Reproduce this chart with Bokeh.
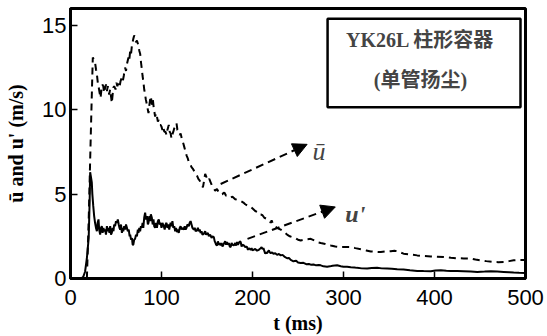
from bokeh.plotting import figure
from bokeh.models import Range1d, Label, Arrow, NormalHead, BoxAnnotation
from bokeh.embed import file_html
from bokeh.resources import INLINE

# Time axis and fluctuating velocity u' (solid line)
t_rms = [0, 12, 14, 16, 18, 19, 20, 21, 21.6, 22.5, 23.4, 24, 25, 26, 27, 28, 29, 29.8, 30.8, 31.5,
         32.6, 33.5, 34.4, 35.3, 36.2, 37, 38, 39, 40, 41, 41.8, 42.8, 43.6, 44.5, 45.4, 46.3, 47.2, 48, 49, 50,
         51, 52, 53, 53.8, 54.6, 55.5, 56.5, 57.3, 58, 59, 60, 61, 62, 63, 64, 65, 65.6, 66.5, 67.5, 68.3,
         69, 70, 71, 72, 73, 74, 74.7, 75.6, 76.5, 77.4, 78.4, 79.2, 80, 81, 82, 83, 84, 85, 85.7, 86.6,
         87.5, 88.3, 89.4, 90.3, 91.2, 92, 93, 94, 95, 96, 97, 98, 99, 100, 101, 102.5, 103.5, 104.5, 105.5, 106.5,
         107.5, 108.5, 110, 111, 112, 113, 114, 115, 116, 117, 118, 119, 120, 121, 122, 123, 124.5, 125.5, 126.5, 127.5,
         128.5, 130, 131, 132, 133, 134, 135.5, 136.5, 137.5, 139, 140, 141, 142, 143, 144, 145, 146.5, 148, 149, 150,
         151, 152, 153, 154, 155, 156, 157.5, 158.5, 159, 160, 161, 162, 163, 164, 165, 166, 167, 168.5, 170, 171,
         172, 173, 174, 175, 176, 177, 178, 179.5, 181, 182, 183, 184, 185, 186, 187, 188, 189, 190.5, 192, 193,
         194, 195, 196, 197, 198, 199, 200, 201, 203, 205, 207, 209, 210, 211, 212, 214, 215, 216, 217, 218,
         219, 220, 221.5, 223, 225, 227, 229, 231, 233, 235, 238, 240, 242, 245, 248, 250, 253, 256, 259, 262,
         264, 267, 270, 273, 275, 278, 282, 285, 288, 293, 297, 300, 304, 308, 312, 315, 320, 326, 331, 337,
         342, 348, 353, 359, 366, 373, 381, 388, 396, 401, 407, 413, 418, 425, 432, 440, 447, 455, 462, 469,
         476, 482, 487, 493, 500]
u_rms = [0, 0, 0.1, 0.4, 1.2, 1.8, 2.4, 4.5, 6.3, 6.0, 5.7, 5.0, 4.3, 3.7, 3.3, 3.0, 2.8, 3.3, 3.5, 2.9,
         2.6, 3.0, 3.1, 2.7, 3.0, 2.8, 2.9, 2.6, 3.1, 2.8, 3.0, 2.7, 3.1, 2.6, 2.7, 3.0, 2.8, 3.2, 3.1, 3.4,
         3.3, 3.5, 3.2, 3.0, 2.9, 3.2, 2.7, 3.0, 2.8, 3.1, 2.9, 3.2, 3.0, 2.8, 2.9, 2.5, 2.6, 2.3, 2.4, 2.0,
         2.0, 2.3, 2.35, 2.6, 2.5, 2.9, 2.7, 3.0, 2.8, 3.1, 3.0, 3.3, 3.0, 3.6, 3.9, 3.5, 3.7, 3.2, 3.3, 3.7,
         3.4, 3.8, 3.6, 3.2, 3.5, 3.1, 3.0, 3.3, 3.0, 3.4, 3.5, 3.2, 3.3, 3.0, 3.3, 3.1, 2.9, 3.2, 3.3, 3.0,
         3.2, 2.9, 3.3, 3.1, 3.4, 3.0, 3.1, 2.8, 3.0, 2.75, 2.9, 2.7, 3.0, 3.1, 2.9, 3.0, 2.9, 3.1, 2.9, 3.0,
         3.2, 3.1, 3.3, 3.4, 3.2, 3.0, 2.9, 3.0, 2.8, 2.85, 3.0, 2.8, 2.9, 2.7, 2.8, 2.6, 2.65, 2.8, 2.6, 2.65,
         2.7, 2.5, 2.6, 2.55, 2.4, 2.5, 2.45, 2.2, 2.15, 2.0, 1.96, 2.2, 2.0, 2.1, 1.96, 2.1, 1.9, 2.06, 2.2, 2.0,
         2.16, 2.0, 2.1, 1.9, 1.86, 2.1, 2.0, 1.96, 2.1, 1.95, 2.16, 2.0, 2.1, 2.2, 2.16, 1.9, 2.0, 1.96, 1.85, 1.9,
         1.86, 1.7, 1.8, 1.75, 1.7, 1.8, 1.67, 1.7, 1.75, 1.65, 1.7, 1.8, 1.86, 1.75, 1.8, 1.47, 1.55, 1.5, 1.6, 1.67,
         1.55, 1.5, 1.55, 1.47, 1.5, 1.4, 1.45, 1.37, 1.4, 1.3, 1.2, 1.22, 1.1, 1.02, 1.05, 0.95, 0.92, 0.93, 0.85, 0.86,
         0.82, 0.83, 0.78, 0.8, 0.78, 0.72, 0.69, 0.72, 0.76, 0.78, 0.73, 0.7, 0.69, 0.66, 0.65, 0.63, 0.6, 0.59, 0.62, 0.63,
         0.6, 0.59, 0.58, 0.55, 0.53, 0.49, 0.45, 0.44, 0.43, 0.47, 0.49, 0.46, 0.45, 0.44, 0.43, 0.41, 0.39, 0.41, 0.43, 0.41,
         0.39, 0.37, 0.35, 0.34, 0.33]

# Mean velocity u-bar (dashed line)
t_mean = [18, 20, 21.6, 23, 24.5, 25.5, 27, 28, 29, 30, 30.8, 32, 33, 34, 35, 36, 37, 38, 39, 40,
          41, 42.5, 43.5, 44.5, 45.4, 46.3, 47, 48, 49.5, 50.5, 51.5, 52.7, 54, 55, 56.4, 57.5, 58.5, 60, 61, 62,
          63.7, 64.5, 65.6, 66.5, 67.5, 69, 70, 71, 72, 73, 74.7, 75.6, 76.6, 77.5, 78.4, 79.2, 80, 81, 82, 82.8,
          84, 85, 85.7, 86.5, 87.5, 88.3, 89.4, 90.5, 91.5, 93, 94, 95, 96, 97, 98, 99, 100, 101, 102, 103,
          104.4, 105.5, 106.5, 108, 109, 110, 111, 111.7, 113, 114, 115.4, 116.5, 117.5, 119, 120, 121, 122.7, 124, 125, 126,
          127.5, 129, 130, 131.5, 133, 134.5, 135.5, 137, 139, 140.5, 142, 143.5, 144.7, 145.5, 146.5, 148, 149.5, 151, 152.5, 154,
          155.5, 157, 159, 161, 163, 165, 166.7, 169, 171, 173, 176, 178, 181, 184, 187, 190, 192, 195, 198, 201,
          203, 205, 207, 209, 211, 213, 215, 217, 219, 220, 221, 222, 223, 225, 227, 229, 231, 234, 236, 238,
          241, 243.6, 247, 250, 253, 257, 260, 264, 268, 271, 275, 280, 286, 291, 297, 302, 308, 313, 319, 325,
          330, 336, 341, 346, 352, 356, 360, 366, 374, 381, 388, 396, 403, 410, 418, 425, 432, 440, 445, 450,
          457, 465, 470, 476, 482, 487, 493, 500]
u_mean = [0, 3.5, 7.0, 10.0, 13.1, 13.0, 12.8, 12.4, 12.1, 11.6, 11.4, 11.0, 10.7, 11.2, 11.5, 11.4, 11.0, 11.3, 11.5, 11.1,
          11.4, 10.9, 11.2, 10.8, 10.4, 10.9, 11.3, 11.4, 11.2, 11.6, 11.4, 11.6, 11.4, 11.7, 11.9, 11.7, 12.0, 12.5, 12.3, 12.7,
          13.1, 12.9, 13.5, 13.3, 13.8, 14.2, 14.4, 14.3, 14.0, 14.1, 13.8, 13.5, 13.3, 12.8, 12.4, 12.0, 11.7, 11.2, 10.9, 10.6,
          10.3, 10.0, 9.8, 10.2, 10.6, 10.8, 10.3, 10.6, 10.1, 9.6, 9.8, 9.6, 9.3, 9.4, 9.1, 9.1, 9.0, 8.8, 9.0, 8.7,
          8.7, 8.5, 8.8, 9.1, 8.7, 8.6, 8.3, 8.5, 8.7, 8.9, 9.0, 9.2, 8.8, 8.7, 8.5, 8.6, 8.2, 8.0, 7.8, 7.6,
          7.3, 7.1, 6.9, 6.8, 6.6, 6.5, 6.4, 6.3, 6.1, 5.9, 5.8, 5.6, 5.5, 5.4, 5.7, 6.2, 6.0, 5.8, 5.9, 5.7,
          5.5, 5.4, 5.2, 5.3, 5.1, 5.0, 5.0, 5.1, 4.9, 4.9, 4.8, 4.85, 4.7, 4.65, 4.6, 4.5, 4.4, 4.3, 4.25, 4.1,
          4.0, 3.95, 3.8, 3.8, 3.75, 3.6, 3.55, 3.45, 3.4, 3.3, 3.45, 3.3, 3.2, 3.1, 3.0, 2.95, 2.9, 2.8, 2.7, 2.6,
          2.5, 2.45, 2.4, 2.3, 2.25, 2.3, 2.33, 2.35, 2.25, 2.15, 2.1, 2.05, 1.96, 1.9, 1.86, 1.87, 1.86, 1.8, 1.73, 1.66,
          1.6, 1.58, 1.57, 1.6, 1.62, 1.65, 1.6, 1.47, 1.42, 1.37, 1.33, 1.31, 1.29, 1.27, 1.23, 1.2, 1.19, 1.18, 1.12, 1.08,
          1.03, 0.98, 0.97, 0.98, 1.03, 1.08, 1.1, 1.1]

x_ticks = [0, 100, 200, 300, 400, 500]
y_ticks = [0, 5, 10, 15]

p = figure(width=547, height=336, output_backend="svg", toolbar_location=None,
           x_range=Range1d(0, 500), y_range=Range1d(0, 16),
           min_border_left=70, min_border_right=22, min_border_top=8, min_border_bottom=57)

p.background_fill_color = "white"
p.border_fill_color = "white"
p.outline_line_color = "black"
p.outline_line_alpha = 1.0
p.outline_line_width = 3
p.xgrid.visible = False
p.ygrid.visible = False

for ax in (p.xaxis[0], p.yaxis[0]):
    ax.axis_line_width = 3
    ax.axis_line_color = "black"
    ax.major_tick_in = 7
    ax.major_tick_out = 0
    ax.minor_tick_in = 4
    ax.minor_tick_out = 0
    ax.major_tick_line_width = 1.5
    ax.major_tick_line_color = "black"
    ax.minor_tick_line_color = "black"
    ax.major_label_text_font = "Liberation Sans"
    ax.major_label_text_font_size = "22px"
    ax.major_label_text_color = "black"
    ax.axis_label_text_font = "Liberation Serif"
    ax.axis_label_text_font_style = "bold"
    ax.axis_label_text_color = "black"
    ax.axis_label_text_font_size = "20px"

p.xaxis.ticker = x_ticks
p.yaxis.ticker = y_ticks
p.xaxis[0].ticker.num_minor_ticks = 5
p.yaxis[0].ticker.num_minor_ticks = 5
p.xaxis.major_label_standoff = 11
p.yaxis.major_label_standoff = 4
p.xaxis.axis_label = "t (ms)"
p.xaxis.axis_label_standoff = 4
p.yaxis.axis_label = "ū and u' (m/s)"
p.yaxis.axis_label_standoff = 12

# curves
p.line(t_mean, u_mean, line_color="black", line_width=2, line_dash="7 5")
p.line(t_rms, u_rms, line_color="black", line_width=2)

# legend box in the upper right
p.add_layout(BoxAnnotation(left=282.5, right=494.5, bottom=10.15, top=15.4,
                           fill_alpha=0, line_color="black", line_alpha=1.0, line_width=2.5))
box_font = "Liberation Serif, Noto Sans CJK SC"
p.add_layout(Label(x=387, y=14.15, text="YK26L  柱形容器", text_font=box_font,
                   text_font_style="bold", text_font_size="20px",
                   text_align="center", text_baseline="middle"))
p.add_layout(Label(x=384.5, y=11.75, text="(单管扬尘)", text_font=box_font,
                   text_font_style="bold", text_font_size="20px",
                   text_align="center", text_baseline="middle"))

# pointers to the two curves
p.add_layout(Arrow(x_start=165, y_start=5.6, x_end=260, y_end=7.95,
                   line_color="black", line_width=2, line_dash="8 5",
                   end=NormalHead(size=14, fill_color="black", line_color="black")))
p.add_layout(Arrow(x_start=194.5, y_start=2.35, x_end=291, y_end=4.24,
                   line_color="black", line_width=2, line_dash="8 5",
                   end=NormalHead(size=14, fill_color="black", line_color="black")))
p.add_layout(Label(x=266, y=7.5, text="ū", text_font="Liberation Serif",
                   text_font_style="italic", text_font_size="26px",
                   text_align="left", text_baseline="alphabetic"))
p.add_layout(Label(x=302, y=3.8, text="u'", text_font="Liberation Serif",
                   text_font_style="bold italic", text_font_size="24px",
                   text_align="left", text_baseline="alphabetic"))

open("out.html", "w").write(file_html(p, INLINE))
